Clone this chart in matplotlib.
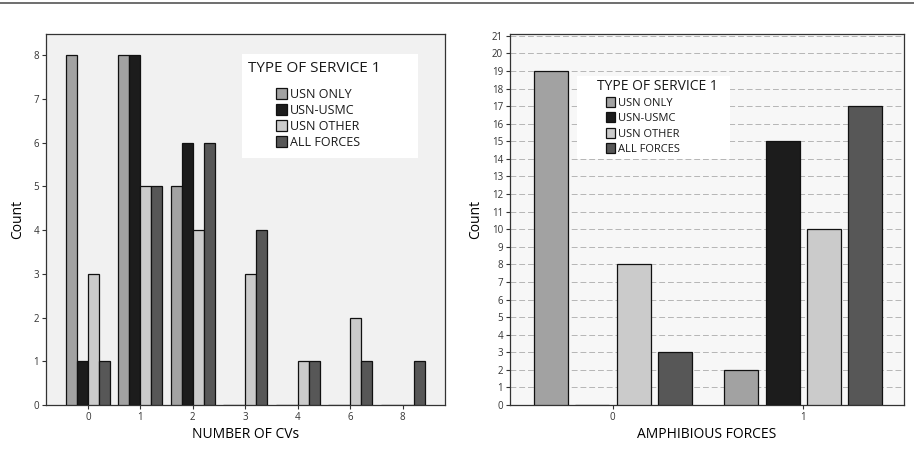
import matplotlib.pyplot as plt
from matplotlib.lines import Line2D
from matplotlib.patches import Rectangle
import numpy as np

plt.rcParams['font.family'] = ['Open Sans', 'DejaVu Sans']

# left panel: NUMBER OF CVs
cv_labels = ["0", "1", "2", "3", "4", "6", "8"]
cv_usn_only = [8, 8, 5, 0, 0, 0, 0]
cv_usn_usmc = [1, 8, 6, 0, 0, 0, 0]
cv_usn_other = [3, 5, 4, 3, 1, 2, 0]
cv_all_forces = [1, 5, 6, 4, 1, 1, 1]

# right panel: AMPHIBIOUS FORCES
amph_labels = ["0", "1"]
amph_usn_only = [19, 2]
amph_usn_usmc = [0, 15]
amph_usn_other = [8, 10]
amph_all_forces = [3, 17]

series_names = ["USN ONLY", "USN-USMC", "USN OTHER", "ALL FORCES"]
colors = ["#a2a2a2", "#1c1c1c", "#cbcbcb", "#575757"]
legend_title = "TYPE OF SERVICE 1"

fig = plt.figure(figsize=(9.14, 4.54), dpi=100)
fig.patch.set_facecolor("white")
fig.add_artist(Line2D([0, 1], [0.993, 0.993], color="#555555", lw=1.2))

W, H = 914, 454


def px_axes(x0, y0, x1, y1):
    return fig.add_axes([x0 / W, 1 - y1 / H, (x1 - x0) / W, (y1 - y0) / H])


def fx(x):
    return x / W


def fy(y):
    return 1 - y / H


def style(ax, face):
    ax.set_facecolor(face)
    for s in ax.spines.values():
        s.set_color("#333333")
        s.set_linewidth(0.9)
    ax.tick_params(axis="both", labelsize=7, colors="#333333",
                   length=3, width=0.8, pad=2)
    ax.set_ylabel("Count", fontsize=10, labelpad=6)


def legend_box(ax, box, title_xy, title_size, anchor, size, spacing):
    # white backing box + title, then the entries
    x0, y0, x1, y1 = box
    ax.add_patch(Rectangle((fx(x0), fy(y1)), fx(x1 - x0), (y1 - y0) / H,
                           transform=fig.transFigure, facecolor="white",
                           edgecolor="none", zorder=5, clip_on=False))
    ax.text(fx(title_xy[0]), fy(title_xy[1]), legend_title, fontsize=title_size,
            ha="left", va="center", color="#1a1a1a", zorder=6,
            transform=fig.transFigure)
    leg = ax.legend(loc="upper left", bbox_to_anchor=(fx(anchor[0]), fy(anchor[1])),
                    bbox_transform=fig.transFigure, fontsize=size,
                    frameon=False, handlelength=0.85, handleheight=1.0,
                    handletextpad=0.25, labelspacing=spacing, borderpad=0,
                    borderaxespad=0)
    leg.set_zorder(7)
    for t in leg.get_texts():
        t.set_color("#1a1a1a")
    return leg


# ---- left ----
ax1 = px_axes(46, 34, 445, 405)
style(ax1, "#f1f1f1")
x = np.arange(len(cv_labels))
bw = 0.21
offs = [-1.5 * bw, -0.5 * bw, 0.5 * bw, 1.5 * bw]
for vals, c, o, n in zip([cv_usn_only, cv_usn_usmc, cv_usn_other, cv_all_forces],
                         colors, offs, series_names):
    ax1.bar(x + o, vals, width=bw, color=c, edgecolor="#111111",
            linewidth=0.9, label=n, zorder=3)
ax1.set_xlim(-0.80, 6.81)
ax1.set_ylim(0, 8.48)
ax1.set_yticks(range(0, 9))
ax1.set_xticks(x)
ax1.set_xticklabels(cv_labels)
ax1.set_xlabel("NUMBER OF CVs", fontsize=10, labelpad=3)
legend_box(ax1, (242, 54, 418, 158), (248, 68), 11, (276, 88), 9, 0.24)

# ---- right ----
ax2 = px_axes(510, 34, 904, 405)
style(ax2, "#f7f7f7")
x2 = np.arange(len(amph_labels))
bw2 = 0.178
offs2 = [-0.326, -0.108, 0.11, 0.326]
for vals, c, o, n in zip([amph_usn_only, amph_usn_usmc, amph_usn_other, amph_all_forces],
                         colors, offs2, series_names):
    ax2.bar(x2 + o, vals, width=bw2, color=c, edgecolor="#111111",
            linewidth=0.9, label=n, zorder=3)
ax2.set_xlim(-0.54, 1.53)
ax2.set_ylim(0, 21.1)
ax2.set_yticks(range(0, 22))
ax2.yaxis.grid(True, linestyle=(0, (6, 3)), color="#b5b5b5", linewidth=0.7, zorder=0)
ax2.set_axisbelow(True)
ax2.set_xticks(x2)
ax2.set_xticklabels(amph_labels)
ax2.set_xlabel("AMPHIBIOUS FORCES", fontsize=10, labelpad=3)
legend_box(ax2, (577, 76, 730, 159), (597, 86), 10, (606, 97), 8, 0.33)

fig.savefig("out.png", dpi=100)
